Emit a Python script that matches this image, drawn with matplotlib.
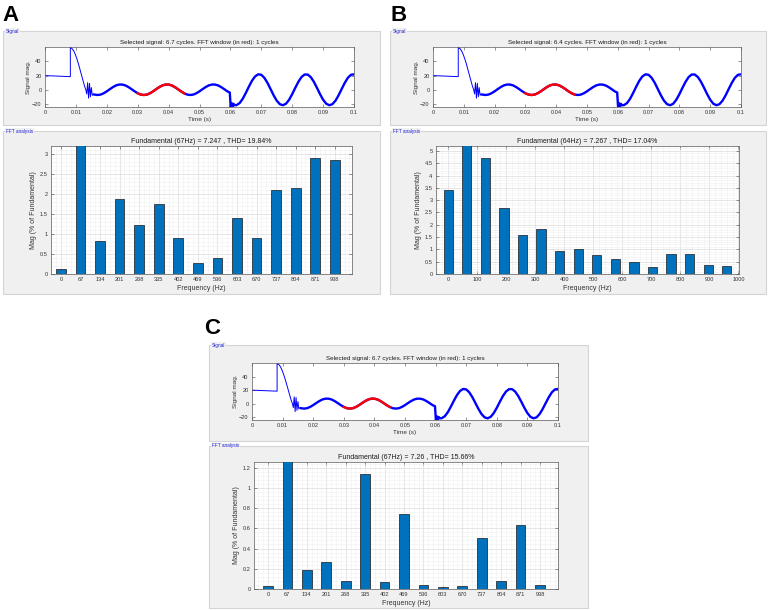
import matplotlib
matplotlib.use('Agg')
import matplotlib.pyplot as plt
from matplotlib.patches import Rectangle
from matplotlib.ticker import MultipleLocator, AutoMinorLocator

plt.rcParams['font.family'] = ['Liberation Sans', 'DejaVu Sans']

# ---- signal (same waveform in all three panels) ----
t_start = [0, 0.0082, 0.0082, 0.0088, 0.0093, 0.0098, 0.0103, 0.0108, 0.0113, 0.0118,
           0.0123, 0.0128, 0.0132, 0.0135, 0.0138, 0.0141, 0.0144, 0.0147, 0.0150,
           0.0153, 0.0156, 0.0160]
v_start = [20, 18.5, 60, 58, 55, 50, 44, 37, 29, 21, 13, 5, 0, -6, 10, -12, 9, -10, 3,
           -8, -6, -6.9]

t_main = [0.016, 0.017, 0.018, 0.019, 0.020, 0.021, 0.022, 0.023, 0.024, 0.025,
          0.026, 0.027, 0.028, 0.029, 0.030, 0.031, 0.032, 0.033, 0.034, 0.035,
          0.036, 0.037, 0.038, 0.039, 0.040, 0.041, 0.042, 0.043, 0.044, 0.045,
          0.046, 0.047, 0.048, 0.049, 0.050, 0.051, 0.052, 0.053, 0.054, 0.055,
          0.056, 0.057, 0.058, 0.059, 0.0598, 0.0601, 0.0604, 0.0607, 0.0610, 0.0614,
          0.062, 0.063, 0.064, 0.065, 0.066, 0.067, 0.068, 0.069, 0.070, 0.071,
          0.072, 0.073, 0.074, 0.075, 0.076, 0.077, 0.078, 0.079, 0.080, 0.081,
          0.082, 0.083, 0.084, 0.085, 0.086, 0.087, 0.088, 0.089, 0.090, 0.091,
          0.092, 0.093, 0.094, 0.095, 0.096, 0.097, 0.098, 0.099, 0.100]
v_main = [-6.9, -7.5, -6.9, -5.0, -2.3, 0.8, 3.75, 6.1, 7.3, 7.3,
          6.1, 3.75, 0.8, -2.3, -5.0, -6.9, -7.5, -6.9, -5.0, -2.3,
          0.8, 3.75, 6.1, 7.3, 7.3, 6.1, 3.75, 0.8, -2.3, -5.0,
          -6.9, -7.5, -6.9, -5.0, -2.3, 0.8, 3.75, 6.1, 7.3, 7.3,
          6.1, 3.75, 0.8, -2.3, -4.0, -25, -19, -24, -20, -22,
          -21.8, -18.9, -12.8, -4.5, 4.5, 12.8, 18.9, 21.8, 21.1, 16.8,
          9.7, 0.9, -8.0, -15.6, -20.5, -22.0, -19.8, -14.2, -6.3, 2.7,
          11.2, 17.9, 21.5, 21.5, 17.9, 11.3, 2.8, -6.2, -14.2, -19.8,
          -22.0, -20.5, -15.6, -8.0, 0.9, 9.6, 16.8, 21.1, 21.8]

# ---- per panel info ----
cycles = ['6.7', '6.4', '6.7']
win_start = [0.030, 0.030, 0.030]
win_end = [0.045, 0.046, 0.045]
fft_titles = ['Fundamental (67Hz) = 7.247 , THD= 19.84%',
              'Fundamental (64Hz) = 7.267 , THD= 17.04%',
              'Fundamental (67Hz) = 7.26 , THD= 15.66%']

freq_a = [0, 67, 134, 201, 268, 335, 402, 469, 536, 603, 670, 737, 804, 871, 938]
mag_a = [0.13, 100, 0.83, 1.88, 1.23, 1.75, 0.91, 0.28, 0.41, 1.40, 0.91, 2.10, 2.14, 2.89, 2.85]

freq_b = [0, 64, 128, 192, 256, 320, 384, 448, 512, 576, 640, 704, 768, 832, 896, 960]
mag_b = [3.4, 100, 4.7, 2.7, 1.6, 1.83, 0.92, 1.03, 0.76, 0.6, 0.5, 0.27, 0.83, 0.83, 0.35, 0.33]

freq_c = [0, 67, 134, 201, 268, 335, 402, 469, 536, 603, 670, 737, 804, 871, 938]
mag_c = [0.025, 100, 0.185, 0.27, 0.08, 1.14, 0.07, 0.745, 0.035, 0.02, 0.025, 0.505, 0.075, 0.63, 0.04]

W, H = 768, 610
fig = plt.figure(figsize=(W / 100, H / 100), dpi=100)
fig.patch.set_facecolor('white')


def rect(x0, y0, x1, y1):
    return [x0 / W, 1 - y1 / H, (x1 - x0) / W, (y1 - y0) / H]


def panel_box(x0, y0, x1, y1, name):
    fig.add_artist(Rectangle((x0 / W, 1 - y1 / H), (x1 - x0) / W, (y1 - y0) / H,
                             transform=fig.transFigure, facecolor='#f0f0f0',
                             edgecolor='#d4d4d4', lw=0.8, zorder=0))
    fig.text((x0 + 3) / W, 1 - y0 / H, name, fontsize=3.4, color='#2020d0',
             ha='left', va='center',
             bbox=dict(facecolor='#f0f0f0', edgecolor='none', pad=0.5))


def style_ax(ax):
    for s in ax.spines.values():
        s.set_color('#5a5a5a')
        s.set_linewidth(0.5)
    ax.tick_params(which='both', direction='in', top=True, right=True,
                   labelsize=4.1, colors='#444444', labelcolor='#333333',
                   length=2, width=0.4, pad=2.5)
    ax.tick_params(which='minor', length=0)


def draw_signal(ax, i):
    ax.plot(t_start + [t_main[0]], v_start + [v_main[0]], color='#0000ff', lw=0.7)
    ax.plot(t_main, v_main, color='#0000ff', lw=1.7, solid_joinstyle='round')
    tw = [t for t in t_main if win_start[i] <= t <= win_end[i]]
    vw = [v for t, v in zip(t_main, v_main) if win_start[i] <= t <= win_end[i]]
    ax.plot(tw, vw, color='#ff0000', lw=1.7, solid_joinstyle='round')
    ax.set_xlim(0, 0.1)
    ax.set_ylim(-24.5, 60.5)
    ax.set_xticks([0, 0.01, 0.02, 0.03, 0.04, 0.05, 0.06, 0.07, 0.08, 0.09, 0.1])
    ax.set_xticklabels(['0', '0.01', '0.02', '0.03', '0.04', '0.05', '0.06',
                        '0.07', '0.08', '0.09', '0.1'])
    ax.set_yticks([-20, 0, 20, 40])
    style_ax(ax)
    ax.set_title('Selected signal: %s cycles. FFT window (in red): 1 cycles' % cycles[i],
                 fontsize=4.5, pad=2, color='#1a1a1a')
    ax.set_xlabel('Time (s)', fontsize=4.6, labelpad=1, color='#333333')
    ax.set_ylabel('Signal mag.', fontsize=4.6, labelpad=1, color='#333333')


def draw_fft(ax, i, freq, mag, width, xlim, ylim, yticks, yminor, xticks, xminor):
    ax.bar(freq, mag, width=width, color='#0072bd', edgecolor='#1a1a1a', lw=0.5, zorder=3)
    ax.set_xlim(*xlim)
    ax.set_ylim(*ylim)
    ax.set_xticks(xticks)
    ax.set_yticks(yticks)
    ax.set_yticklabels(['%g' % v for v in yticks])
    ax.yaxis.set_minor_locator(MultipleLocator(yminor))
    ax.xaxis.set_minor_locator(xminor)
    ax.grid(True, which='major', color='#dcdcdc', lw=0.5, zorder=0)
    ax.grid(True, which='minor', color='#efefef', lw=0.4, zorder=0)
    ax.set_axisbelow(True)
    style_ax(ax)
    ax.set_title(fft_titles[i], fontsize=5, pad=2, color='#1a1a1a')
    ax.set_xlabel('Frequency (Hz)', fontsize=5, labelpad=1.5, color='#333333')
    ax.set_ylabel('Mag (% of Fundamental)', fontsize=5, labelpad=2, color='#333333')


# ---- panel A ----
fig.text(2 / W, 1 - 5 / H, 'A', fontsize=16, fontweight='bold', va='top', ha='left')
panel_box(3, 31, 380, 125, 'Signal')
panel_box(3, 131, 380, 294, 'FFT analysis')
ax = fig.add_axes(rect(45, 47, 354, 107))
draw_signal(ax, 0)
ax = fig.add_axes(rect(51, 146, 352, 274))
draw_fft(ax, 0, freq_a, mag_a, 33.5, (-34, 997), (0, 3.2),
         [0, 0.5, 1, 1.5, 2, 2.5, 3], 0.1, freq_a, AutoMinorLocator(4))

# ---- panel B ----
fig.text(390 / W, 1 - 5 / H, 'B', fontsize=16, fontweight='bold', va='top', ha='left')
panel_box(390, 31, 766, 125, 'Signal')
panel_box(390, 131, 766, 294, 'FFT analysis')
ax = fig.add_axes(rect(433, 47, 741, 107))
draw_signal(ax, 1)
ax = fig.add_axes(rect(436, 146, 739, 274))
draw_fft(ax, 1, freq_b, mag_b, 32, (-42, 1002), (0, 5.2),
         [0, 0.5, 1, 1.5, 2, 2.5, 3, 3.5, 4, 4.5, 5], 0.1,
         [0, 100, 200, 300, 400, 500, 600, 700, 800, 900, 1000], MultipleLocator(20))

# ---- panel C ----
fig.text(204 / W, 1 - 318 / H, 'C', fontsize=16, fontweight='bold', va='top', ha='left')
panel_box(209, 345, 588, 441, 'Signal')
panel_box(209, 446, 588, 608, 'FFT analysis')
ax = fig.add_axes(rect(252, 363, 558, 420))
draw_signal(ax, 2)
ax = fig.add_axes(rect(254, 462, 558, 589))
draw_fft(ax, 2, freq_c, mag_c, 33.5, (-48, 1000), (0, 1.255),
         [0, 0.2, 0.4, 0.6, 0.8, 1, 1.2], 0.04, freq_c, AutoMinorLocator(4))

fig.savefig('out.png', dpi=100)
